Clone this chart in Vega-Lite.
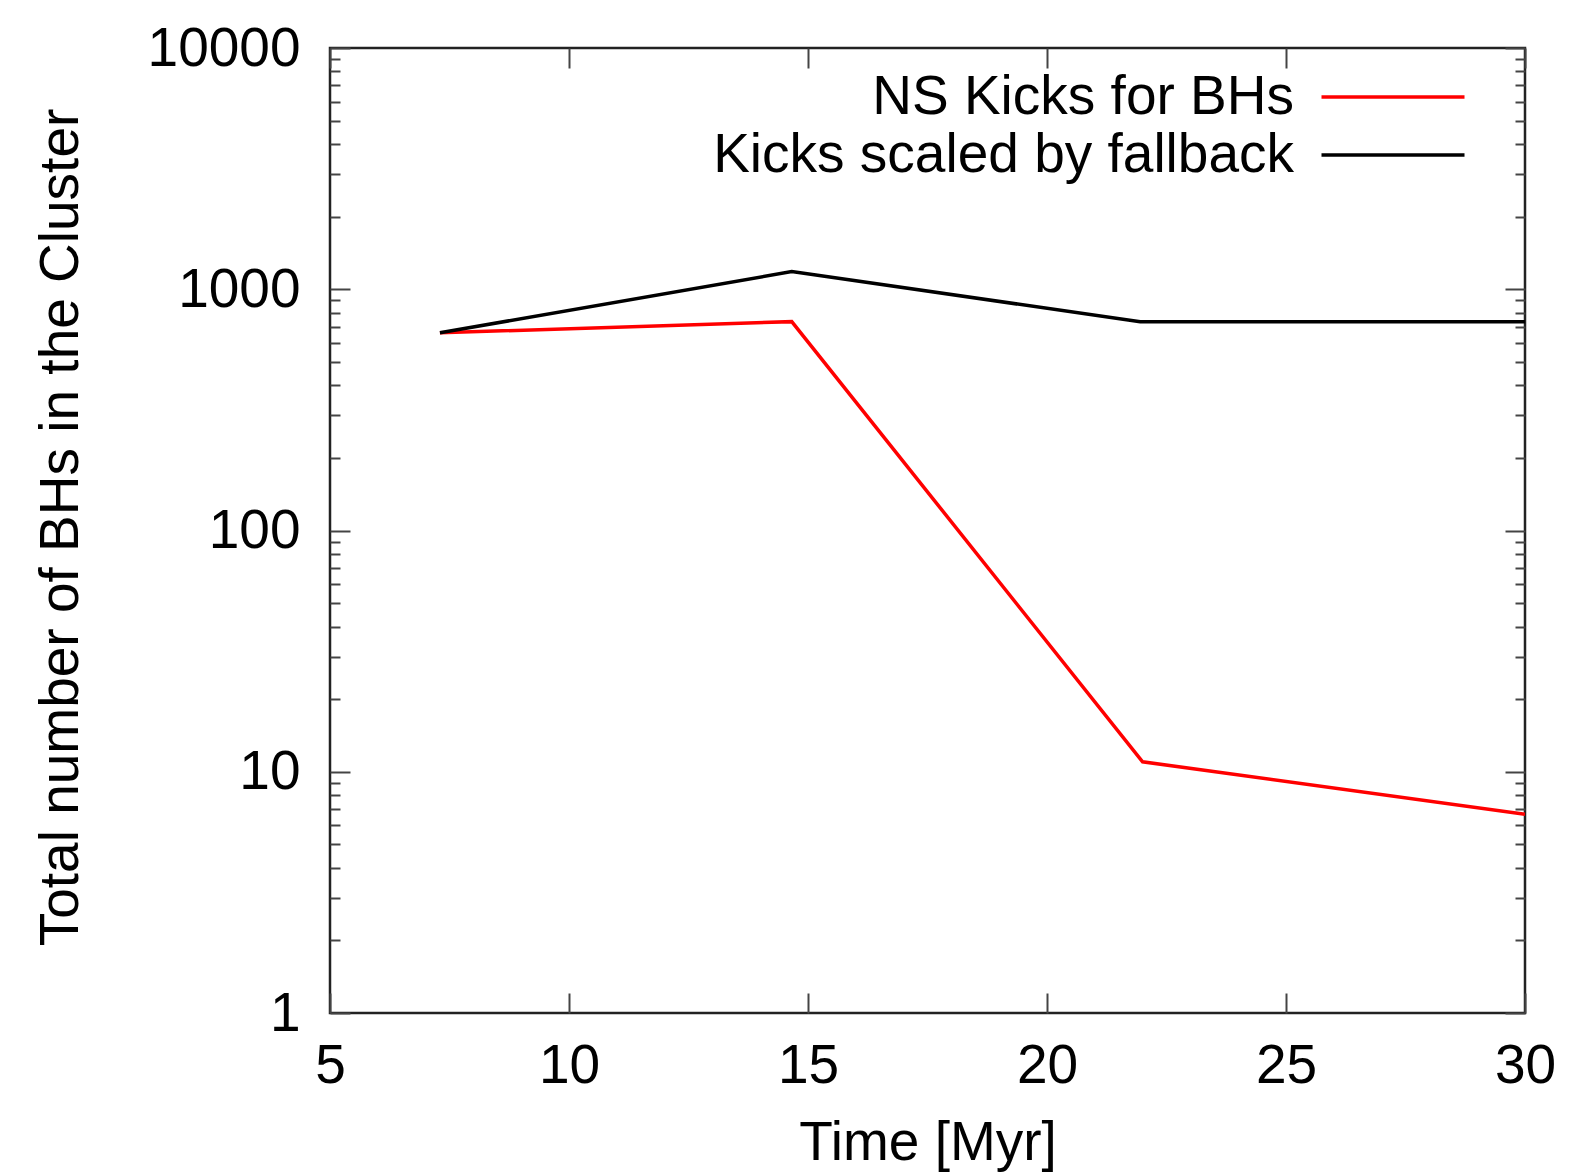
{
  "$schema": "https://vega.github.io/schema/vega-lite/v6.json",
  "width": 1195,
  "height": 965,
  "autosize": "none",
  "padding": {"left": 330, "top": 48, "right": 48, "bottom": 161},
  "config": {
    "view": {"stroke": "#222222", "strokeWidth": 2.5},
    "font": "Liberation Sans"
  },
  "data": {
    "values": [
      {"time": 7.3, "n": 660, "series": "NS Kicks for BHs"},
      {"time": 14.66, "n": 734, "series": "NS Kicks for BHs"},
      {"time": 22.0, "n": 11.0, "series": "NS Kicks for BHs"},
      {"time": 30.0, "n": 6.66, "series": "NS Kicks for BHs"},
      {"time": 7.3, "n": 660, "series": "Kicks scaled by fallback"},
      {"time": 14.66, "n": 1183, "series": "Kicks scaled by fallback"},
      {"time": 21.95, "n": 734, "series": "Kicks scaled by fallback"},
      {"time": 30.0, "n": 734, "series": "Kicks scaled by fallback"}
    ]
  },
  "layer": [
    {
      "mark": {"type": "line", "strokeWidth": 3.5, "clip": true},
      "encoding": {
        "x": {
          "field": "time", "type": "quantitative",
          "scale": {"domain": [5, 30], "nice": false, "zero": false},
          "axis": {
            "orient": "bottom", "values": [5, 10, 15, 20, 25, 30],
            "tickSize": -20, "tickWidth": 2, "tickColor": "#444444",
            "domain": false, "grid": false, "labelFlush": false, "labelOverlap": false,
            "labelFontSize": 55, "labelColor": "#000000", "labelPadding": 46,
            "labelBaseline": "top",
            "title": "Time [Myr]", "titleFontSize": 55, "titleFontWeight": "normal",
            "titleColor": "#000000", "titleBaseline": "alphabetic", "titleY": 146
          }
        },
        "y": {
          "field": "n", "type": "quantitative",
          "scale": {"type": "log", "domain": [1, 10000], "nice": false},
          "axis": {
            "orient": "left",
            "values": [1,2,3,4,5,6,7,8,9,10,20,30,40,50,60,70,80,90,100,200,300,400,500,600,700,800,900,1000,2000,3000,4000,5000,6000,7000,8000,9000,10000],
            "tickSize": {"condition": {"test": "abs(log(datum.value)/LN10 - round(log(datum.value)/LN10)) < 0.001", "value": -20}, "value": -10},
            "tickWidth": 2, "tickColor": "#444444",
            "domain": false, "grid": false, "labelFlush": false, "labelOverlap": false,
            "labelExpr": "abs(log(datum.value)/LN10 - round(log(datum.value)/LN10)) < 0.001 ? format(datum.value, 'd') : ''",
            "labelFontSize": 55, "labelColor": "#000000", "labelPadding": 50,
            "title": "Total number of BHs in the Cluster", "titleFontSize": 55, "titleFontWeight": "normal",
            "titleColor": "#000000", "titleX": -270, "titleY": 479, "titleAlign": "center", "titleBaseline": "middle", "titleAngle": 270
          }
        },
        "color": {
          "field": "series", "type": "nominal",
          "scale": {"domain": ["NS Kicks for BHs", "Kicks scaled by fallback"], "range": ["#ff0000", "#000000"]},
          "legend": {
            "orient": "none", "legendX": 1033.5, "legendY": 19.5, "title": null,
            "symbolType": "M-2.6,0H2.6", "symbolSize": 3025, "symbolStrokeWidth": 3.5,
            "symbolFillColor": "transparent",
            "labelFontSize": 55, "labelColor": "#000000", "labelAlign": "right", "labelOffset": -128.5,
            "labelLimit": 0, "rowPadding": 0, "padding": 0
          }
        }
      }
    },
    {
      "mark": {"type": "line", "opacity": 0},
      "encoding": {
        "x": {
          "field": "time", "type": "quantitative",
          "axis": {
            "orient": "top", "values": [5, 10, 15, 20, 25, 30],
            "tickSize": -20, "tickWidth": 2, "tickColor": "#444444",
            "domain": false, "grid": false, "labels": false, "title": null
          }
        },
        "y": {
          "field": "n", "type": "quantitative",
          "axis": {
            "orient": "right",
            "values": [1,2,3,4,5,6,7,8,9,10,20,30,40,50,60,70,80,90,100,200,300,400,500,600,700,800,900,1000,2000,3000,4000,5000,6000,7000,8000,9000,10000],
            "tickSize": {"condition": {"test": "abs(log(datum.value)/LN10 - round(log(datum.value)/LN10)) < 0.001", "value": -20}, "value": -10},
            "tickWidth": 2, "tickColor": "#444444",
            "domain": false, "grid": false, "labels": false, "title": null
          }
        },
        "detail": {"field": "series", "type": "nominal"}
      }
    }
  ],
  "resolve": {"axis": {"x": "independent", "y": "independent"}}
}
